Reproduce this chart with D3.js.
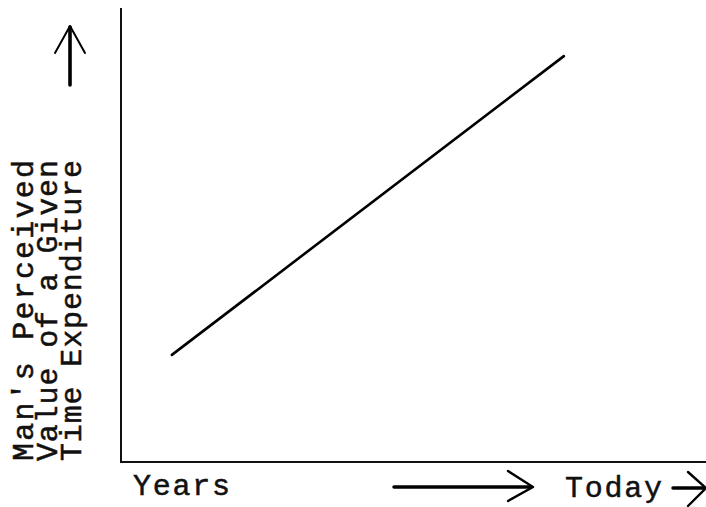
<!DOCTYPE html>
<html>
<head>
<meta charset="utf-8">
<script src="https://cdn.jsdelivr.net/npm/d3@7"></script>
<style>
  html, body { margin: 0; padding: 0; background: #fff; }
  svg { display: block; }
</style>
</head>
<body>
<div id="chart"></div>
<script>
// data (no ticks on the original, units are arbitrary 0..10)
var xValues = [0.87, 7.57];
var yValues = [2.36, 8.94];
var yLabelLines = ["Man's Perceived", 'Value of a Given', 'Time Expenditure'];
var xLabelLeft = 'Years';
var xLabelRight = 'Today';

var width = 706, height = 507;
var plot = {left: 121, right: 706, top: 8, bottom: 462};
var font = '"Liberation Mono", "Courier New", monospace';

var svg = d3.select('#chart').append('svg')
  .attr('width', width)
  .attr('height', height);

var x = d3.scaleLinear().domain([0, 10]).range([plot.left, plot.right]);
var y = d3.scaleLinear().domain([0, 10]).range([plot.bottom, plot.top]);

// axes, drawn as bare lines
svg.append('path')
  .attr('d', 'M' + plot.left + ',' + plot.top + ' V' + plot.bottom + ' H' + plot.right)
  .style('fill', 'none')
  .style('stroke', '#111')
  .style('stroke-width', 2);

// the trend line
var pts = xValues.map(function (v, i) { return [v, yValues[i]]; });
var line = d3.line()
  .x(function (d) { return x(d[0]); })
  .y(function (d) { return y(d[1]); });

svg.append('path')
  .datum(pts)
  .attr('d', line)
  .style('fill', 'none')
  .style('stroke', '#000')
  .style('stroke-width', 2.6)
  .style('stroke-linecap', 'round');

// typewriter-ish text helper
function label(sel) {
  return sel
    .style('font-family', font)
    .style('font-size', '30px')
    .style('fill', '#111')
    .style('stroke', '#111')
    .style('stroke-width', 0.5);
}

// rotated y label, three lines
yLabelLines.forEach(function (t, i) {
  label(svg.append('text'))
    .attr('transform', 'translate(' + (33 + i * 24) + ',461) rotate(-90)')
    .attr('textLength', 301)
    .attr('lengthAdjust', 'spacing')
    .text(t);
});

// up arrow over the label
var arrows = svg.append('g')
  .style('fill', 'none')
  .style('stroke', '#000')
  .style('stroke-linecap', 'round')
  .style('stroke-linejoin', 'round');

arrows.append('path')
  .attr('d', 'M70,85 V27')
  .style('stroke-width', 3.6);
arrows.append('path')
  .attr('d', 'M55,53 L70,26 L85,53')
  .style('stroke-width', 2);

// bottom labels
label(svg.append('text'))
  .attr('x', 133)
  .attr('y', 495)
  .attr('textLength', 97)
  .attr('lengthAdjust', 'spacing')
  .text(xLabelLeft);

label(svg.append('text'))
  .attr('x', 565)
  .attr('y', 497)
  .attr('textLength', 97)
  .attr('lengthAdjust', 'spacing')
  .text(xLabelRight);

// right-pointing arrows
arrows.append('path')
  .attr('d', 'M394,487 H531')
  .style('stroke-width', 3.5);
arrows.append('path')
  .attr('d', 'M508,471 L533,487 L508,501')
  .style('stroke-width', 2.4);

arrows.append('path')
  .attr('d', 'M673,488 H704')
  .style('stroke-width', 3.5);
arrows.append('path')
  .attr('d', 'M688,472 L706,488 L688,506')
  .style('stroke-width', 2.4);
</script>
</body>
</html>
